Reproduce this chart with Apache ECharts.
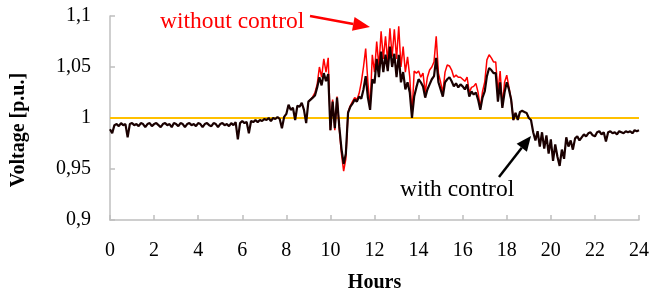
<!DOCTYPE html>
<html>
<head>
<meta charset="utf-8">
<script src="https://cdn.jsdelivr.net/npm/echarts@6/dist/echarts.min.js"></script>
<style>
  html, body { margin: 0; padding: 0; background: #fff; }
  #chart { width: 651px; height: 291px; }
</style>
</head>
<body>
<div id="chart"></div>
<script>
// sampling step in hours (6 min)
const STEP = 0.1;

// with control (black), 0.0 .. 24.0 h
const withControl = [
  // 0h
  0.989, 0.985, 0.993, 0.994, 0.992, 0.995, 0.993, 0.994, 0.981, 0.994,
  // 1h
  0.995, 0.993, 0.994, 0.992, 0.995, 0.994, 0.991, 0.994, 0.995, 0.992,
  // 2h
  0.994, 0.995, 0.993, 0.991, 0.994, 0.995, 0.993, 0.994, 0.991, 0.995,
  // 3h
  0.994, 0.992, 0.995, 0.994, 0.991, 0.994, 0.995, 0.993, 0.994, 0.992,
  // 4h
  0.995, 0.994, 0.991, 0.994, 0.995, 0.993, 0.992, 0.995, 0.994, 0.991,
  // 5h
  0.994, 0.995, 0.993, 0.994, 0.992, 0.995, 0.993, 0.996, 0.979, 0.995,
  // 6h
  0.997, 0.995, 0.996, 0.985, 0.997, 0.996, 0.998, 0.996, 0.998, 0.997,
  // 7h
  0.999, 0.998, 1.000, 0.997, 1.000, 0.999, 1.001, 0.999, 0.990, 1.001,
  // 8h
  1.004, 1.013, 1.008, 1.010, 0.998, 1.012, 1.011, 1.015, 1.008, 0.995,
  // 9h
  1.016, 1.018, 1.020, 1.022, 1.030, 1.040, 1.032, 1.044, 1.036, 1.043,
  // 10h
  0.988, 1.016, 0.990, 1.020, 0.992, 0.970, 0.955, 0.965, 1.005, 1.011,
  // 11h
  1.014, 1.018, 1.016, 1.021, 1.019, 1.028, 1.041, 1.020, 1.008, 1.038,
  // 12h
  1.034, 1.058, 1.040, 1.065, 1.045, 1.062, 1.046, 1.070, 1.050, 1.063,
  // 13h
  1.040, 1.062, 1.035, 1.045, 1.028, 1.035, 1.025, 1.000, 1.021, 1.030,
  // 14h
  1.038, 1.035, 1.031, 1.020, 1.028, 1.033, 1.038, 1.041, 1.059, 1.035,
  // 15h
  1.028, 1.021, 1.035, 1.038, 1.040, 1.036, 1.031, 1.034, 1.030, 1.033,
  // 16h
  1.031, 1.028, 1.033, 1.021, 1.026, 1.023, 1.025, 1.018, 1.008, 1.020,
  // 17h
  1.026, 1.041, 1.049, 1.047, 1.044, 1.044, 1.016, 1.035, 1.010, 1.025,
  // 18h
  1.035, 1.028, 1.018, 0.998, 1.005, 0.998, 1.006, 1.007, 1.006, 1.005,
  // 19h
  1.000, 0.998, 0.986, 0.978, 0.987, 0.972, 0.986, 0.970, 0.983, 0.965,
  // 20h
  0.979, 0.958, 0.974, 0.962, 0.953, 0.969, 0.960, 0.981, 0.972, 0.978,
  // 21h
  0.969, 0.980, 0.982, 0.978, 0.981, 0.984, 0.982, 0.985, 0.986, 0.983,
  // 22h
  0.982, 0.986, 0.987, 0.984, 0.986, 0.977, 0.986, 0.987, 0.985, 0.986,
  // 23h
  0.984, 0.987, 0.986, 0.985, 0.987, 0.986, 0.987, 0.985, 0.988, 0.987,
  // 24h
  0.988
];

// without control (red), only where it leaves the black curve: 9.0 .. 18.4 h
const withoutStart = 9.0;
const withoutControl = [
  // 9h
  1.016, 1.018, 1.021, 1.025, 1.033, 1.050, 1.040, 1.058, 1.045, 1.059,
  // 10h
  0.988, 1.018, 0.988, 1.021, 0.990, 0.965, 0.948, 0.960, 1.006, 1.012,
  // 11h
  1.016, 1.020, 1.018, 1.024, 1.035, 1.050, 1.068, 1.035, 1.010, 1.062,
  // 12h
  1.045, 1.075, 1.050, 1.085, 1.058, 1.080, 1.055, 1.088, 1.060, 1.087,
  // 13h
  1.058, 1.090, 1.050, 1.070, 1.045, 1.060, 1.040, 1.002, 1.046, 1.044,
  // 14h
  1.046, 1.040, 1.044, 1.025, 1.040, 1.047, 1.050, 1.055, 1.080, 1.044,
  // 15h
  1.035, 1.025, 1.045, 1.052, 1.051, 1.047, 1.040, 1.042, 1.040, 1.040,
  // 16h
  1.038, 1.036, 1.040, 1.025, 1.030, 1.031, 1.034, 1.025, 1.010, 1.026,
  // 17h
  1.035, 1.057, 1.062, 1.059, 1.055, 1.055, 1.025, 1.046, 1.012, 1.035,
  // 18h
  1.042, 1.030, 1.018, 0.998, 1.005
];

const refLevel = 1.0;
const hourRange = [0, 24];

const serif = '"Liberation Serif", "Times New Roman", serif';
const axisGray = '#bfbfbf';

function toPairs(start, values) {
  return values.map((v, i) => [+(start + i * STEP).toFixed(2), v]);
}

// arrow = line + triangle head, in pixels
function arrow(x1, y1, x2, y2, color, width, headLen, headW) {
  const a = Math.atan2(y2 - y1, x2 - x1);
  const bx = x2 - headLen * Math.cos(a), by = y2 - headLen * Math.sin(a);
  const nx = -Math.sin(a) * headW / 2, ny = Math.cos(a) * headW / 2;
  return [
    {type: 'line', shape: {x1: x1, y1: y1, x2: bx, y2: by},
     style: {stroke: color, lineWidth: width}},
    {type: 'polygon', shape: {points: [[x2, y2], [bx + nx, by + ny], [bx - nx, by - ny]]},
     style: {fill: color}}
  ];
}

const chart = echarts.init(document.getElementById('chart'), null, {renderer: 'canvas'});
chart.setOption({
  animation: false,
  backgroundColor: '#fff',
  grid: {left: 110, right: 12, top: 16, bottom: 71, containLabel: false, outerBoundsMode: 'none'},
  xAxis: {
    type: 'value',
    min: hourRange[0], max: hourRange[1], interval: 2,
    name: 'Hours', nameLocation: 'middle', nameGap: 53,
    nameTextStyle: {fontFamily: serif, fontSize: 20, fontWeight: 'bold', color: '#000'},
    axisLine: {lineStyle: {color: axisGray, width: 1.5}},
    axisTick: {inside: true, length: 5, lineStyle: {color: axisGray, width: 1.5}},
    axisLabel: {fontFamily: serif, fontSize: 20, color: '#000', margin: 21},
    splitLine: {show: false}
  },
  yAxis: {
    type: 'value',
    min: 0.9, max: 1.1, interval: 0.05,
    axisLine: {show: true, lineStyle: {color: axisGray, width: 1.5}},
    axisTick: {show: true, inside: true, length: 5, lineStyle: {color: axisGray, width: 1.5}},
    axisLabel: {
      fontFamily: serif, fontSize: 20, color: '#000', margin: 19,
      formatter: v => String(+v.toFixed(2)).replace('.', ',')
    },
    splitLine: {show: false}
  },
  series: [
    {
      name: 'reference', type: 'line', symbol: 'none', z: 1,
      data: [[hourRange[0], refLevel], [hourRange[1], refLevel]],
      lineStyle: {color: '#ffc000', width: 1.8}
    },
    {
      name: 'without control', type: 'line', symbol: 'none', z: 2,
      data: toPairs(withoutStart, withoutControl),
      lineStyle: {color: '#ff0000', width: 1.5}
    },
    {
      name: 'with control', type: 'line', symbol: 'none', z: 3,
      data: toPairs(0, withControl),
      lineStyle: {color: '#1a0000', width: 2.2}
    }
  ],
  graphic: [
    {type: 'text', x: 19, y: 130, rotation: Math.PI / 2,
     style: {text: 'Voltage [p.u.]', font: 'bold 20px ' + serif, fill: '#000',
             align: 'center', verticalAlign: 'middle'}},
    {type: 'text', x: 160, y: 22,
     style: {text: 'without control', font: '23.5px ' + serif, fill: '#ff0000',
             align: 'left', verticalAlign: 'middle'}},
    {type: 'text', x: 400, y: 190,
     style: {text: 'with control', font: '23.5px ' + serif, fill: '#000',
             align: 'left', verticalAlign: 'middle'}}
  ].concat(arrow(310, 16, 370, 27, '#ff0000', 2.5, 17, 14))
   .concat(arrow(499, 177, 531, 136, '#000', 2.5, 15, 13))
});
</script>
</body>
</html>
